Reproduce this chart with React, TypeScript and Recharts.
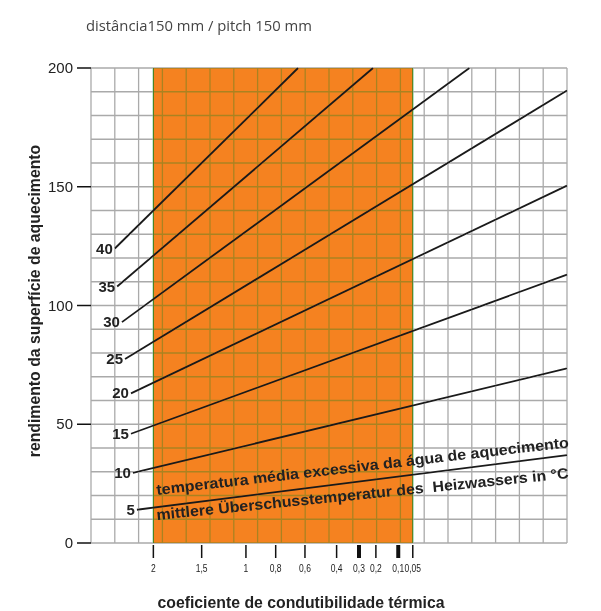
import { LineChart, Line, XAxis, YAxis, CartesianGrid } from 'recharts';

// excess heating water temperature per curve (°C)
const temperatures = ['40', '35', '30', '25', '20', '15', '10', '5'];
// each curve is a straight segment: start and end on the chart grid
const startX = [1.0, 1.1, 1.3, 1.43, 1.68, 1.68, 1.76, 1.93];
const startY = [124, 108, 93, 77.5, 63, 46, 29.5, 14];
const endX = [8.7, 11.85, 15.9, 20, 20, 20, 20, 20];
const endY = [200, 200, 200, 190.5, 150.5, 113, 73.5, 37];

// thermal conductivity scale printed under the axis
const conductivityLabels = ['2', '1,5', '1', '0,8', '0,6', '0,4', '0,3', '0,2', '0,1', '0,05'];
const conductivityPos = [2.62, 4.65, 6.51, 7.76, 8.99, 10.32, 11.26, 11.97, 12.91, 13.52];
const boldTicks = ['0,3', '0,1'];

const outputTicks = [0, 50, 100, 150, 200];

// usable covering range (orange band)
const bandFrom = 2.62;
const bandTo = 13.52;
const ORANGE = '#F58220';

const gridX = Array.from({ length: 21 }, (_, i) => i);
const gridY = Array.from({ length: 21 }, (_, i) => i * 10);
// the axes carry both the printed ticks and the grid, so the grid sits above the band
const xTicks = Array.from(new Set([...gridX, ...conductivityPos])).sort((a, b) => a - b);

const series = temperatures.map((t, i) => ({
  name: t,
  points: [
    { x: startX[i], y: startY[i] },
    { x: endX[i], y: endY[i] },
  ],
}));

const SANS = 'Liberation Sans, Arial, Helvetica, sans-serif';
const GRID = '#aaaaaa';
const EDGE = '#4fb574';
const PLOT_W = 476;
const PLOT_H = 475;
// grid is drawn after the curves; darken keeps the black curves unbroken
const blend = { mixBlendMode: 'darken' as const };

function ConductivityTick(props: any) {
  const { x, y, payload } = props;
  const v = payload.value;
  const li = conductivityPos.indexOf(v);
  const label = li >= 0 ? conductivityLabels[li] : null;
  const thick = label !== null && boldTicks.includes(label);
  const edge = v === bandFrom || v === bandTo;
  return (
    <g>
      {gridX.includes(v) && (
        <line x1={x} x2={x} y1={y} y2={y - PLOT_H} stroke={GRID} strokeWidth={1.3} style={blend} />
      )}
      {edge && (
        <line x1={x} x2={x} y1={y} y2={y - PLOT_H} stroke={EDGE} strokeWidth={1.3} style={blend} />
      )}
      {label !== null && (
        <>
          <line x1={x} x2={x} y1={y + 2} y2={y + 15} stroke="#111" strokeWidth={thick ? 4 : 1.5} />
          <text
            transform={`translate(${x},${y + 29}) scale(0.74,1)`}
            textAnchor="middle"
            fontSize={11.5}
            fontFamily={SANS}
            fill="#222"
          >
            {label}
          </text>
        </>
      )}
    </g>
  );
}

function OutputTick(props: any) {
  const { x, y, payload } = props;
  const v = payload.value;
  const major = outputTicks.includes(v);
  return (
    <g>
      <line x1={x} x2={x + PLOT_W} y1={y} y2={y} stroke={GRID} strokeWidth={1.3} style={blend} />
      {major && (
        <>
          <line x1={x - 14} x2={x} y1={y} y2={y} stroke="#111" strokeWidth={1.5} />
          <text x={x - 18} y={y + 5} textAnchor="end" fontSize={15} fontFamily={SANS} fill="#222">
            {v}
          </text>
        </>
      )}
    </g>
  );
}

function startLabel(name: string) {
  return (props: any) => {
    if (props.index !== 0) return <g />;
    return (
      <text
        x={props.x - 2}
        y={props.y + 5}
        textAnchor="end"
        fontSize={15}
        fontWeight="bold"
        fontFamily={SANS}
        fill="#222"
      >
        {name}
      </text>
    );
  };
}

export default function App() {
  return (
    <div style={{ position: 'absolute', left: 0, top: 0, width: 601, height: 611, background: '#fff' }}>
      <LineChart width={601} height={611} margin={{ top: 68, right: 34, bottom: 38, left: 31 }}>
        {/* orange band as a grid stripe */}
        <CartesianGrid
          horizontal={false}
          verticalValues={[0, bandFrom, bandTo, 20]}
          verticalFill={['none', ORANGE, 'none']}
          fillOpacity={1}
          strokeOpacity={0}
        />
        <XAxis
          type="number"
          dataKey="x"
          domain={[0, 20]}
          ticks={xTicks}
          interval={0}
          axisLine={false}
          tickLine={false}
          tickSize={0}
          tickMargin={0}
          height={30}
          tick={<ConductivityTick />}
        />
        <YAxis
          type="number"
          dataKey="y"
          domain={[0, 200]}
          ticks={gridY}
          interval={0}
          width={60}
          axisLine={false}
          tickLine={false}
          tickSize={0}
          tickMargin={0}
          tick={<OutputTick />}
        />
        {series.map((s) => (
          <Line
            key={s.name}
            data={s.points}
            dataKey="y"
            name={s.name}
            stroke="#1a1a1a"
            strokeWidth={1.8}
            dot={false}
            activeDot={false}
            isAnimationActive={false}
            label={startLabel(s.name)}
          />
        ))}
      </LineChart>
      <svg
        width={601}
        height={611}
        style={{ position: 'absolute', left: 0, top: 0, pointerEvents: 'none' }}
      >
        <text x={86} y={31} fontSize={14.8} fontFamily="Open Sans, sans-serif" fill="#444">
          distância150 mm / pitch 150 mm
        </text>
        <text
          x={40}
          y={301}
          transform="rotate(-90 40 301)"
          textAnchor="middle"
          fontSize={15.8}
          fontWeight="bold"
          fontFamily={SANS}
          fill="#222"
        >
          rendimento da superfície de aquecimento
        </text>
        <text
          x={301}
          y={608}
          textAnchor="middle"
          fontSize={15.8}
          fontWeight="bold"
          fontFamily={SANS}
          fill="#222"
        >
          coeficiente de condutibilidade térmica
        </text>
        <text
          x={157}
          y={495}
          transform="rotate(-6.6 157 495)"
          fontSize={15}
          fontWeight="bold"
          fontFamily={SANS}
          fill="#222"
          textLength={415}
          lengthAdjust="spacingAndGlyphs"
        >
          temperatura média excessiva da água de aquecimento
        </text>
        <text
          x={157}
          y={520}
          transform="rotate(-5.8 157 520)"
          fontSize={15}
          fontWeight="bold"
          fontFamily={SANS}
          fill="#222"
          textLength={414}
          lengthAdjust="spacingAndGlyphs"
          style={{ whiteSpace: 'pre' }}
        >
          mittlere Überschusstemperatur des  Heizwassers in °C
        </text>
      </svg>
    </div>
  );
}
